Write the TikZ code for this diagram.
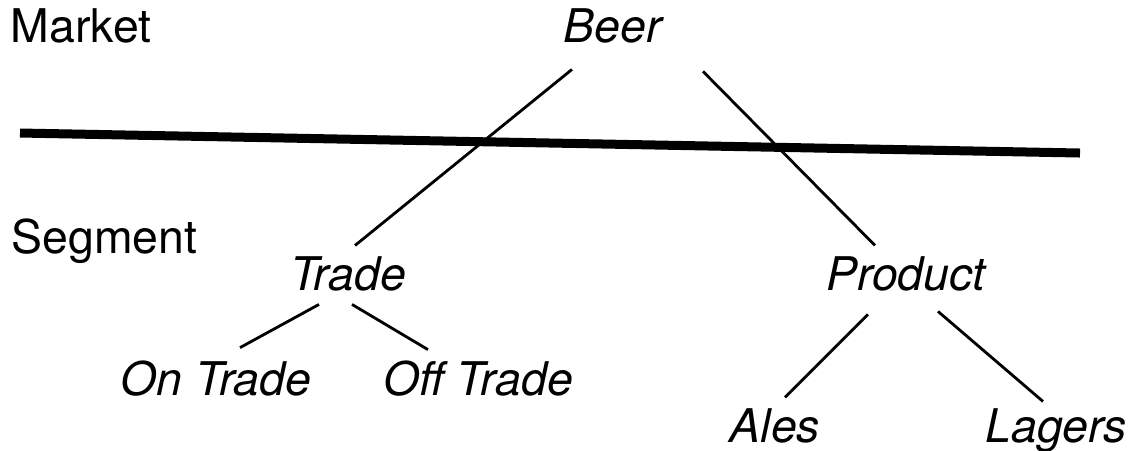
\documentclass[tikz,border=0pt]{standalone}
\usepackage{fontspec}
\setmainfont{TeX Gyre Heros}
\usetikzlibrary{positioning}

\begin{document}
\begin{tikzpicture}[
x=0.01cm, y=-0.01cm,
font=\fontsize{13.2}{16}\selectfont,
level/.style={inner sep=0pt, anchor=base west},
item/.style={inner sep=0pt, anchor=base, font=\fontsize{13.2}{16}\selectfont\itshape},
branch/.style={line width=0.8pt},
divider/.style={line width=0.09cm},
]
\useasboundingbox (0,0) rectangle (1139,450);

\node (market) [level] at (10,42) {Market};
\node (segment) [level] at (11,253) {Segment};

\node (beer) [item] at (613,42) {Beer};
\node (trade) [item] at (348,290) {Trade};
\node (product) [item] at (906,290) {Product};
\node (ontrade) [item] at (216,395) {On Trade};
\node (offtrade) [item] at (478,395) {Off Trade};
\node (ales) [item] at (775,442) {Ales};
\node (lagers) [item] at (1056,442) {Lagers};

\coordinate (rule-l) at (20,133);
\coordinate (rule-r) at (1080,153);
\draw[divider] (rule-l) -- (rule-r);

\draw[branch] ([shift={(-41,26)}]beer.south) -- ([shift={(7,-10)}]trade.north);
\draw[branch] ([shift={(90,28)}]beer.south) -- ([shift={(-31,-10)}]product.north);
\draw[branch] ([shift={(-29,13)}]trade.south) -- ([shift={(24,-12)}]ontrade.north);
\draw[branch] ([shift={(4,13)}]trade.south) -- ([shift={(-50,-10)}]offtrade.north);
\draw[branch] ([shift={(-38,23)}]product.south) -- ([shift={(10,-10)}]ales.north);
\draw[branch] ([shift={(32,20)}]product.south) -- ([shift={(-13,-6)}]lagers.north);

\end{tikzpicture}
\end{document}
